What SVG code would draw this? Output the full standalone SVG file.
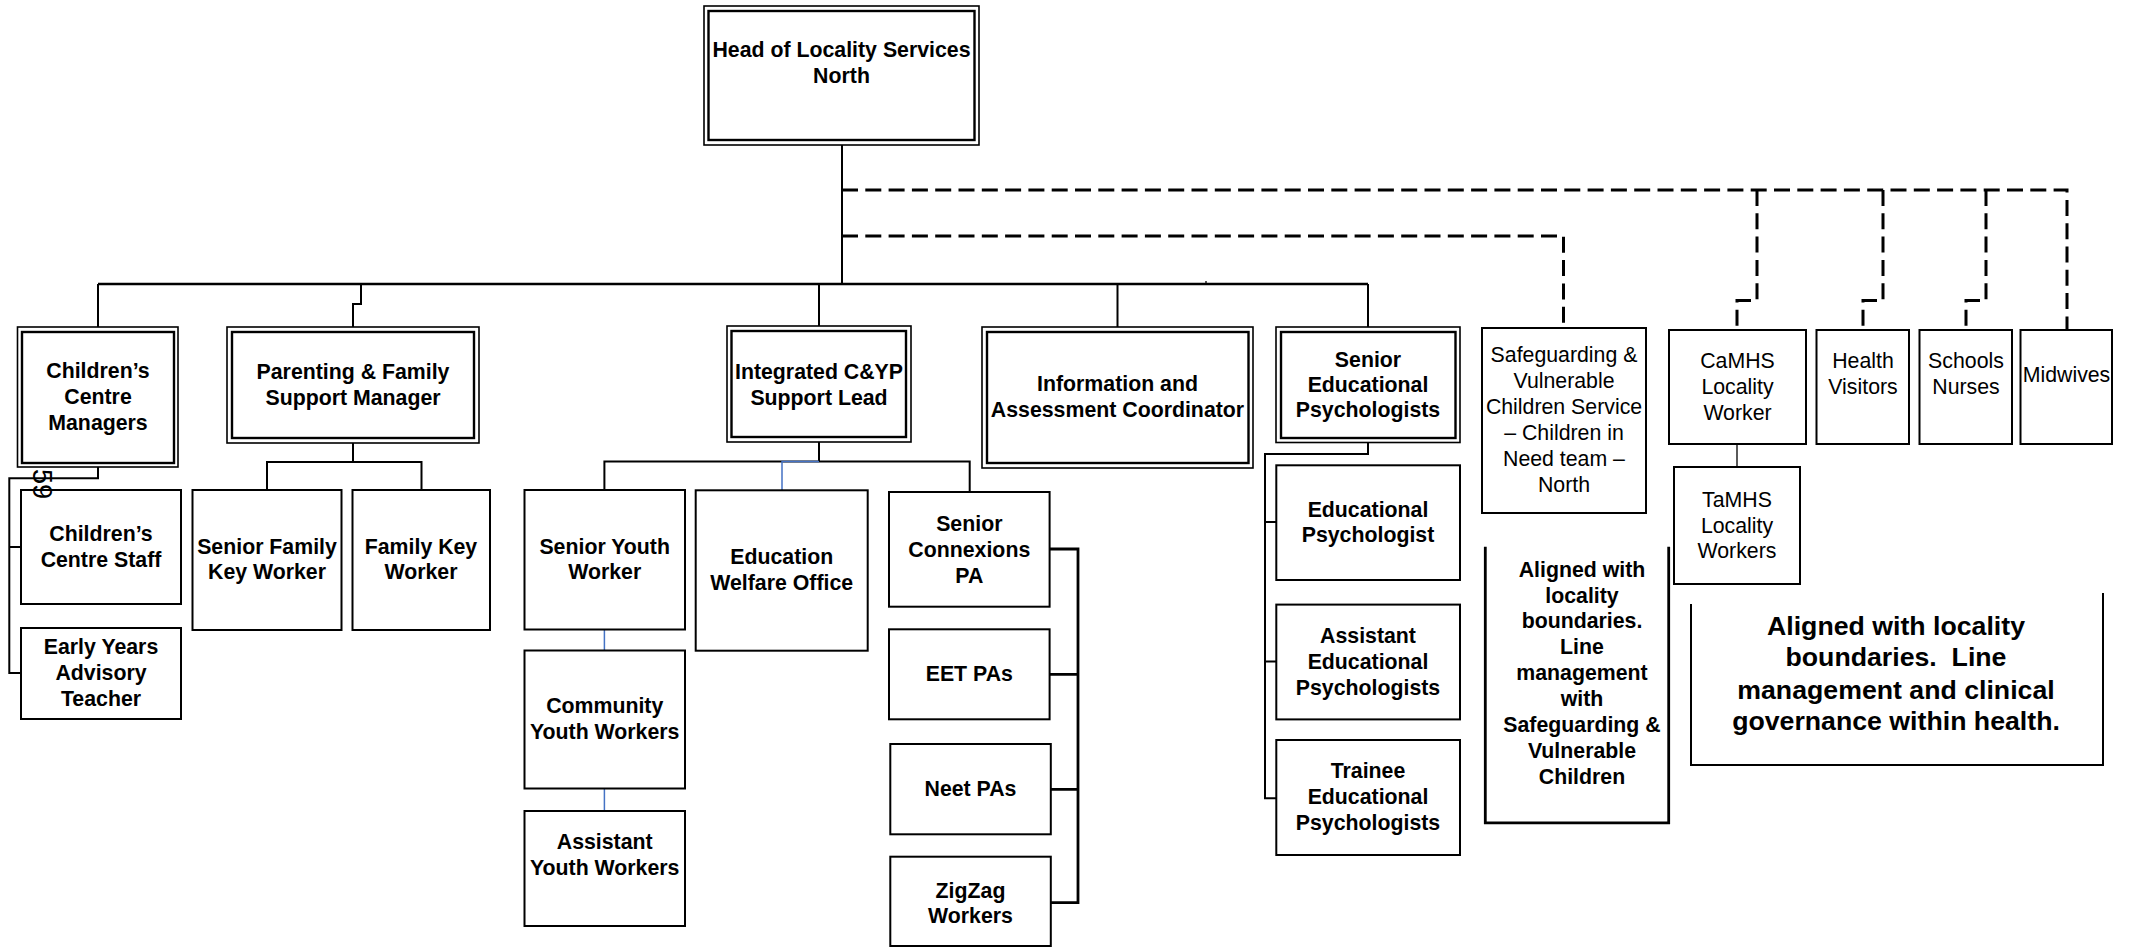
<svg xmlns="http://www.w3.org/2000/svg" width="2130" height="948" viewBox="0 0 2130 948">
  <style>
    text { font-family: "Liberation Sans", Arial, sans-serif; font-size: 21.3px; text-anchor: middle; fill: #000; }
    .b { font-weight: bold; }
    .big { font-size: 26.7px; font-weight: bold; }
    .page { font-size: 27px; }
    .box { fill: #fff; stroke: #000; stroke-width: 2; }
    .outer { fill: #fff; stroke: #000; stroke-width: 1.6; }
    .inner { fill: none; stroke: #000; stroke-width: 2.4; }
    .ln { fill: none; stroke: #000; stroke-width: 2; }
    .bus { fill: none; stroke: #000; stroke-width: 2.6; }
    .thick { fill: none; stroke: #000; stroke-width: 2.8; }
    .thin { fill: none; stroke: #000; stroke-width: 1.3; }
    .blue { fill: none; stroke: #4472C4; stroke-width: 1.5; }
    .dash { fill: none; stroke: #000; stroke-width: 3; stroke-dasharray: 16 7.3; }
  </style>

  <!-- connectors -->
  <g id="connectors">
    <path class="ln" d="M842,144 V284"/>
    <path class="bus" d="M98,284 H1368"/>
    <path class="thin" d="M1206,281 V284"/>
    <path class="ln" d="M98,284 V327"/>
    <path class="ln" d="M361,284 V304 H353 V327"/>
    <path class="ln" d="M819,284 V326"/>
    <path class="ln" d="M1117.5,284 V327"/>
    <path class="ln" d="M1368,284 V327"/>

    <!-- dotted reporting lines -->
    <path class="dash" d="M842,190 H2067 V330"/>
    <path class="dash" d="M842,236 H1563.5 V328"/>
    <path class="dash" d="M1757,190 V300.5 H1737 V330"/>
    <path class="dash" d="M1883,190 V300.5 H1863 V330"/>
    <path class="dash" d="M1986,190 V300.5 H1966 V330"/>

    <path class="thin" d="M1737,444 V467"/>

    <!-- children's centre managers -->
    <path class="ln" d="M98,467 V478.3 H9.3 V673 H21"/>
    <path class="ln" d="M9.3,547 H21"/>

    <!-- parenting & family support -->
    <path class="ln" d="M353,443 V462 M267,490 V462 H421.5 V490"/>

    <!-- integrated C&YP -->
    <path class="ln" d="M819,442 V461.5 M604.4,490 V461.5 H969.7 V492"/>
    <path class="blue" d="M819,461.5 H782 V490"/>
    <path class="blue" d="M604.4,629.5 V650.5"/>
    <path class="blue" d="M604.4,788.5 V811"/>

    <!-- connexions -->
    <path class="thick" d="M1049.6,549 H1078 V902.7 H1050.8"/>
    <path class="thick" d="M1078,674.3 H1049.6 M1078,789.3 H1050.8"/>

    <!-- educational psychologists -->
    <path class="ln" d="M1368,442.5 V454 H1265 V798.3 H1276.3"/>
    <path class="ln" d="M1265,522 H1276.3 M1265,661.6 H1276.3"/>
  </g>

  <!-- managers (double border) -->
  <g id="head">
    <rect class="outer" x="704" y="6" width="275" height="139"/>
    <rect class="inner" x="708.5" y="11" width="266" height="129"/>
    <text class="b" x="841.5" y="56.5">Head of Locality Services</text>
    <text class="b" x="841.5" y="82.5">North</text>
  </g>

  <g id="cc-managers">
    <rect class="outer" x="17.5" y="327" width="160.5" height="140"/>
    <rect class="inner" x="22" y="332" width="152" height="131"/>
    <text class="b" x="98" y="378">Children’s</text>
    <text class="b" x="98" y="404">Centre</text>
    <text class="b" x="98" y="430">Managers</text>
  </g>

  <g id="parenting">
    <rect class="outer" x="227" y="327" width="252" height="116"/>
    <rect class="inner" x="232" y="332" width="242" height="106"/>
    <text class="b" x="353" y="378.5">Parenting &amp; Family</text>
    <text class="b" x="353" y="404.5">Support Manager</text>
  </g>

  <g id="integrated">
    <rect class="outer" x="727" y="326" width="184" height="116"/>
    <rect class="inner" x="731.5" y="331" width="174.5" height="106"/>
    <text class="b" x="819" y="378.5">Integrated C&amp;YP</text>
    <text class="b" x="819" y="404.5">Support Lead</text>
  </g>

  <g id="information">
    <rect class="outer" x="982" y="327" width="271" height="141"/>
    <rect class="inner" x="987" y="332" width="261.5" height="131"/>
    <text class="b" x="1117.5" y="391">Information and</text>
    <text class="b" x="1117.5" y="417">Assessment Coordinator</text>
  </g>

  <g id="senior-ep">
    <rect class="outer" x="1276" y="327" width="184" height="115.5"/>
    <rect class="inner" x="1281" y="332" width="174.5" height="106"/>
    <text class="b" x="1368" y="366.5">Senior</text>
    <text class="b" x="1368" y="392">Educational</text>
    <text class="b" x="1368" y="417">Psychologists</text>
  </g>

  <!-- partner services -->
  <g id="safeguarding">
    <rect class="box" x="1482" y="328" width="164" height="185"/>
    <text x="1564" y="362">Safeguarding &amp;</text>
    <text x="1564" y="388">Vulnerable</text>
    <text x="1564" y="414">Children Service</text>
    <text x="1564" y="440">– Children in</text>
    <text x="1564" y="466">Need team –</text>
    <text x="1564" y="491.5">North</text>
  </g>

  <g id="camhs">
    <rect class="box" x="1669" y="330" width="137" height="114"/>
    <text x="1737.5" y="368">CaMHS</text>
    <text x="1737.5" y="394">Locality</text>
    <text x="1737.5" y="419.5">Worker</text>
  </g>

  <g id="health-visitors">
    <rect class="box" x="1816.5" y="330" width="92.5" height="114"/>
    <text x="1863" y="368">Health</text>
    <text x="1863" y="393.5">Visitors</text>
  </g>

  <g id="school-nurses">
    <rect class="box" x="1919.5" y="330" width="92.5" height="114"/>
    <text x="1966" y="368">Schools</text>
    <text x="1966" y="393.5">Nurses</text>
  </g>

  <g id="midwives">
    <rect class="box" x="2020.5" y="330" width="91.5" height="114"/>
    <text x="2066.5" y="381.5">Midwives</text>
  </g>

  <g id="tamhs">
    <rect class="box" x="1674" y="467" width="126" height="117"/>
    <text x="1737" y="506.5">TaMHS</text>
    <text x="1737" y="532.5">Locality</text>
    <text x="1737" y="558">Workers</text>
  </g>

  <!-- children's centres -->
  <g id="cc-staff">
    <rect class="box" x="21" y="490" width="160" height="114"/>
    <text class="b" x="101" y="541">Children’s</text>
    <text class="b" x="101" y="567">Centre Staff</text>
  </g>

  <g id="early-years">
    <rect class="box" x="21" y="628" width="160" height="91"/>
    <text class="b" x="101" y="654">Early Years</text>
    <text class="b" x="101" y="680">Advisory</text>
    <text class="b" x="101" y="706">Teacher</text>
  </g>

  <!-- page number, printed sideways -->
  <text class="page" x="33" y="484" transform="rotate(90 33 484)">59</text>

  <!-- family support -->
  <g id="senior-family-key-worker">
    <rect class="box" x="192.5" y="490" width="149" height="140"/>
    <text class="b" x="267" y="553.5">Senior Family</text>
    <text class="b" x="267" y="579">Key Worker</text>
  </g>

  <g id="family-key-worker">
    <rect class="box" x="352.5" y="490" width="137.5" height="140"/>
    <text class="b" x="421" y="553.5">Family Key</text>
    <text class="b" x="421" y="579">Worker</text>
  </g>

  <!-- youth service -->
  <g id="senior-youth-worker">
    <rect class="box" x="524.5" y="490" width="160.5" height="139.5"/>
    <text class="b" x="604.7" y="553.5">Senior Youth</text>
    <text class="b" x="604.7" y="579">Worker</text>
  </g>

  <g id="community-youth-workers">
    <rect class="box" x="524.5" y="650.5" width="160.5" height="138"/>
    <text class="b" x="604.7" y="713">Community</text>
    <text class="b" x="604.7" y="738.5">Youth Workers</text>
  </g>

  <g id="assistant-youth-workers">
    <rect class="box" x="524.5" y="811" width="160.5" height="115"/>
    <text class="b" x="604.7" y="849">Assistant</text>
    <text class="b" x="604.7" y="875">Youth Workers</text>
  </g>

  <g id="education-welfare">
    <rect class="box" x="695.7" y="490.3" width="172" height="160.4"/>
    <text class="b" x="781.7" y="564">Education</text>
    <text class="b" x="781.7" y="590">Welfare Office</text>
  </g>

  <!-- connexions -->
  <g id="senior-connexions">
    <rect class="box" x="889" y="492" width="160.6" height="114.7"/>
    <text class="b" x="969.3" y="531">Senior</text>
    <text class="b" x="969.3" y="556.5">Connexions</text>
    <text class="b" x="969.3" y="582.5">PA</text>
  </g>

  <g id="eet-pas">
    <rect class="box" x="889" y="629.3" width="160.6" height="90"/>
    <text class="b" x="969.3" y="681">EET PAs</text>
  </g>

  <g id="neet-pas">
    <rect class="box" x="890.3" y="744" width="160.5" height="90.3"/>
    <text class="b" x="970.5" y="796">Neet PAs</text>
  </g>

  <g id="zigzag">
    <rect class="box" x="890.3" y="856.7" width="160.5" height="89.3"/>
    <text class="b" x="970.5" y="898">ZigZag</text>
    <text class="b" x="970.5" y="922.5">Workers</text>
  </g>

  <!-- educational psychology -->
  <g id="educational-psychologist">
    <rect class="box" x="1276.3" y="465.3" width="183.7" height="114.7"/>
    <text class="b" x="1368" y="516.5">Educational</text>
    <text class="b" x="1368" y="541.7">Psychologist</text>
  </g>

  <g id="assistant-ep">
    <rect class="box" x="1276.3" y="604.6" width="183.7" height="114.8"/>
    <text class="b" x="1368" y="642.7">Assistant</text>
    <text class="b" x="1368" y="669">Educational</text>
    <text class="b" x="1368" y="695">Psychologists</text>
  </g>

  <g id="trainee-ep">
    <rect class="box" x="1276.3" y="740" width="183.7" height="115"/>
    <text class="b" x="1368" y="778">Trainee</text>
    <text class="b" x="1368" y="804">Educational</text>
    <text class="b" x="1368" y="830">Psychologists</text>
  </g>

  <!-- notes -->
  <g id="note-safeguarding">
    <path class="thick" d="M1485.3,546.8 V822.8 H1668.7 V546.8"/>
    <text class="b" x="1582" y="577.3">Aligned with</text>
    <text class="b" x="1582" y="603">locality</text>
    <text class="b" x="1582" y="628.2">boundaries.</text>
    <text class="b" x="1582" y="653.8">Line</text>
    <text class="b" x="1582" y="680">management</text>
    <text class="b" x="1582" y="705.5">with</text>
    <text class="b" x="1582" y="732.3">Safeguarding &amp;</text>
    <text class="b" x="1582" y="758">Vulnerable</text>
    <text class="b" x="1582" y="783.5">Children</text>
  </g>

  <g id="note-health">
    <path class="ln" d="M1691,604 V765 H2103 V593"/>
    <text class="big" x="1896" y="634.5">Aligned with locality</text>
    <text class="big" x="1896" y="665.5">boundaries.&#160; Line</text>
    <text class="big" x="1896" y="698.8">management and clinical</text>
    <text class="big" x="1896" y="730">governance within health.</text>
  </g>
</svg>
